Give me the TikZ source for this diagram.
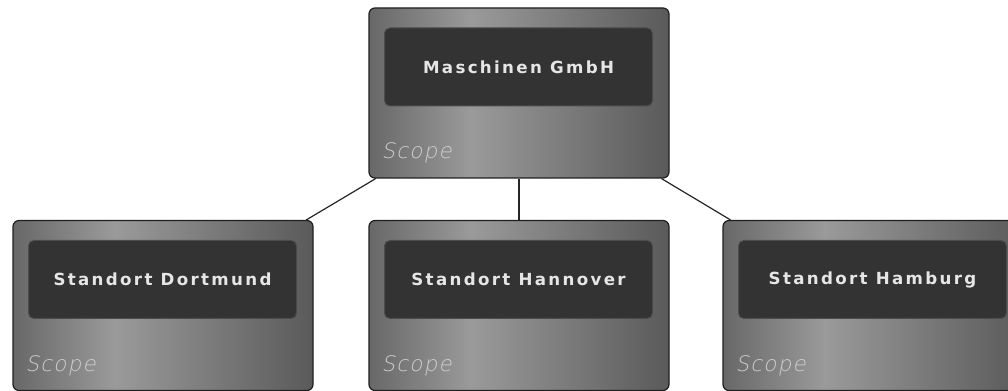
\documentclass[tikz,border=0pt]{standalone}
\usepackage{fontspec}
\newfontfamily\labelfont[LetterSpace=14]{DejaVu Sans}
\newfontfamily\scopefont[LetterSpace=6,FakeSlant=0.2]{DejaVu Sans ExtraLight}
\definecolor{scA}{HTML}{686868}
\definecolor{scB}{HTML}{9A9A9A}
\definecolor{scC}{HTML}{5A5A5A}
\definecolor{boxfill}{HTML}{333333}
\definecolor{boxedge}{HTML}{4C4C4C}
\definecolor{labeltext}{HTML}{E6E6E6}
\definecolor{scopetext}{HTML}{CFCFCF}
\pgfdeclarehorizontalshading{scopeshade}{100bp}{color(0bp)=(scA); color(25bp)=(scA); color(42bp)=(scB); color(75bp)=(scC); color(100bp)=(scC)}
\begin{document}
\begin{tikzpicture}[x=0.75pt,y=-0.75pt,
  scopebox/.style={draw=black!88, line width=0.9pt, rounded corners=4.5pt, shade, shading=scopeshade, minimum width=225pt, minimum height=127.5pt, inner sep=0pt},
  unitbox/.style={draw=boxedge, fill=boxfill, line width=0.75pt, rounded corners=4pt, minimum width=201pt, minimum height=58.5pt, text=labeltext, font=\labelfont\bfseries\fontsize{12.5}{14}\selectfont, inner sep=0pt},
  scopelabel/.style={anchor=base west, text=scopetext, font=\scopefont\fontsize{16}{18}\selectfont, inner sep=0pt},
  link/.style={draw=black!85, line width=0.9pt}]
\useasboundingbox (0,0) rectangle (1008,391);
\fill[white] (0,0) rectangle (1008,391);
\node[scopebox] (s0) at (519,93) {};
\node[scopebox] (s1) at (163,305.5) {};
\node[scopebox] (s2) at (519,305.5) {};
\node[scopebox] (s3) at (873,305.5) {};
\draw[link] (s0) -- (s1);
\draw[link] (s0) -- (s2);
\draw[link] (s0) -- (s3);
\node[unitbox] (u0) at ([shift={(-0.5,-26)}]s0.center) {Maschinen GmbH};
\node[unitbox] (u1) at ([shift={(-0.5,-26)}]s1.center) {Standort Dortmund};
\node[unitbox] (u2) at ([shift={(-0.5,-26)}]s2.center) {Standort Hannover};
\node[unitbox] (u3) at ([shift={(-0.5,-26)}]s3.center) {Standort Hamburg};
\node[scopelabel] (l0) at ([shift={(13,-20)}]s0.south west) {Scope};
\node[scopelabel] (l1) at ([shift={(13,-20)}]s1.south west) {Scope};
\node[scopelabel] (l2) at ([shift={(13,-20)}]s2.south west) {Scope};
\node[scopelabel] (l3) at ([shift={(13,-20)}]s3.south west) {Scope};
\end{tikzpicture}
\end{document}
